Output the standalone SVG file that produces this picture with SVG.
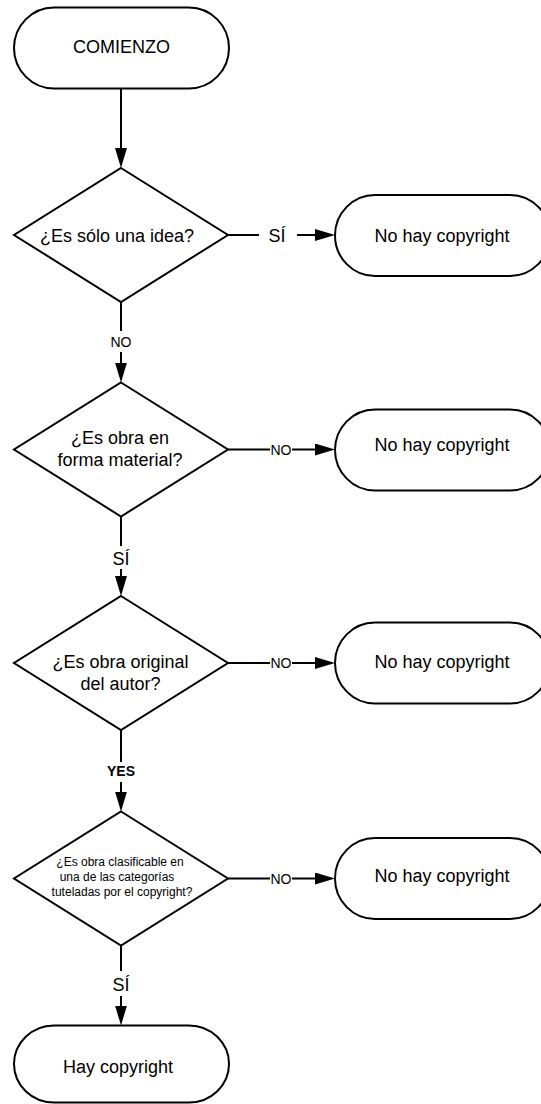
<svg xmlns="http://www.w3.org/2000/svg" width="541" height="1104" viewBox="0 0 541 1104">
  <style>
    .shape { fill: #ffffff; stroke: #000000; stroke-width: 2; }
    .edge { fill: none; stroke: #000000; stroke-width: 2; }
    .t { font-family: "Liberation Sans", Arial, sans-serif; fill: #000000; text-anchor: middle; }
    .big { font-size: 18px; }
    .small { font-size: 12px; }
    .lbl { font-size: 14px; }
    .bold { font-weight: bold; }
  </style>
  <defs>
    <marker id="arrow" viewBox="0 0 20 12" refX="10" refY="6" markerWidth="20" markerHeight="12" markerUnits="userSpaceOnUse" orient="auto">
      <path d="M0,0 L20,6 L0,12 Z" fill="#000000"/>
    </marker>
  </defs>
  <rect width="541" height="1104" fill="#ffffff"/>

  <!-- connectors -->
  <g id="connectors">
    <!-- start to first question -->
    <line class="edge" x1="121" y1="88.5" x2="121" y2="158" marker-end="url(#arrow)"/>
    <!-- question 1 -> question 2 (NO) -->
    <line class="edge" x1="121" y1="302" x2="121" y2="331"/>
    <text class="t lbl" x="121" y="347">NO</text>
    <line class="edge" x1="121" y1="352" x2="121" y2="372.5" marker-end="url(#arrow)"/>
    <!-- question 2 -> question 3 (SÍ) -->
    <line class="edge" x1="121" y1="516.5" x2="121" y2="546"/>
    <text class="t big" x="121" y="565">SÍ</text>
    <line class="edge" x1="121" y1="569" x2="121" y2="586" marker-end="url(#arrow)"/>
    <!-- question 3 -> question 4 (YES) -->
    <line class="edge" x1="121" y1="730" x2="121" y2="762"/>
    <text class="t lbl bold" x="121" y="776">YES</text>
    <line class="edge" x1="121" y1="782" x2="121" y2="801.5" marker-end="url(#arrow)"/>
    <!-- question 4 -> result (SÍ) -->
    <line class="edge" x1="121" y1="945.5" x2="121" y2="971"/>
    <text class="t big" x="121" y="991">SÍ</text>
    <line class="edge" x1="121" y1="996" x2="121" y2="1015.5" marker-end="url(#arrow)"/>

    <!-- side exits -->
    <line class="edge" x1="228" y1="235" x2="259" y2="235"/>
    <text class="t big" x="277" y="241.5">SÍ</text>
    <line class="edge" x1="297" y1="235" x2="325" y2="235" marker-end="url(#arrow)"/>

    <line class="edge" x1="228" y1="449.5" x2="270" y2="449.5"/>
    <text class="t lbl" x="281" y="454.5">NO</text>
    <line class="edge" x1="292" y1="449.5" x2="325" y2="449.5" marker-end="url(#arrow)"/>

    <line class="edge" x1="228" y1="663" x2="270" y2="663"/>
    <text class="t lbl" x="281" y="668">NO</text>
    <line class="edge" x1="292" y1="663" x2="325" y2="663" marker-end="url(#arrow)"/>

    <line class="edge" x1="228" y1="878.5" x2="270" y2="878.5"/>
    <text class="t lbl" x="281" y="883.5">NO</text>
    <line class="edge" x1="292" y1="878.5" x2="325" y2="878.5" marker-end="url(#arrow)"/>
  </g>

  <!-- start -->
  <g id="start">
    <rect class="shape" x="14" y="7.5" width="215" height="81" rx="40" ry="40.5"/>
    <text class="t big" x="121.5" y="53">COMIENZO</text>
  </g>

  <!-- questions -->
  <g id="q1">
    <polygon class="shape" points="121,168 228,235 121,302 14,235"/>
    <text class="t big" x="117" y="241.5">¿Es sólo una idea?</text>
  </g>
  <g id="q2">
    <polygon class="shape" points="121,382.5 228,449.5 121,516.5 14,449.5"/>
    <text class="t big" x="120" y="444">¿Es obra en</text>
    <text class="t big" x="120" y="466">forma material?</text>
  </g>
  <g id="q3">
    <polygon class="shape" points="121,596 228,663 121,730 14,663"/>
    <text class="t big" x="120.5" y="668">¿Es obra original</text>
    <text class="t big" x="120.5" y="690">del autor?</text>
  </g>
  <g id="q4">
    <polygon class="shape" points="121,811.5 228,878.5 121,945.5 14,878.5"/>
    <text class="t small" x="120" y="866">¿Es obra clasificable en</text>
    <text class="t small" x="117" y="881">una de las categorías</text>
    <text class="t small" x="122" y="895.5">tuteladas por el copyright?</text>
  </g>

  <!-- outcomes -->
  <g id="no1">
    <rect class="shape" x="335" y="195" width="215" height="81" rx="40" ry="40.5"/>
    <text class="t big" x="442" y="242">No hay copyright</text>
  </g>
  <g id="no2">
    <rect class="shape" x="335" y="409.5" width="215" height="81" rx="40" ry="40.5"/>
    <text class="t big" x="442" y="451">No hay copyright</text>
  </g>
  <g id="no3">
    <rect class="shape" x="335" y="622.5" width="215" height="81" rx="40" ry="40.5"/>
    <text class="t big" x="442" y="668">No hay copyright</text>
  </g>
  <g id="no4">
    <rect class="shape" x="335" y="838" width="215" height="81" rx="40" ry="40.5"/>
    <text class="t big" x="442" y="882">No hay copyright</text>
  </g>
  <g id="yes">
    <rect class="shape" x="14" y="1025.5" width="215" height="77" rx="40" ry="38.5"/>
    <text class="t big" x="118" y="1073">Hay copyright</text>
  </g>
</svg>
